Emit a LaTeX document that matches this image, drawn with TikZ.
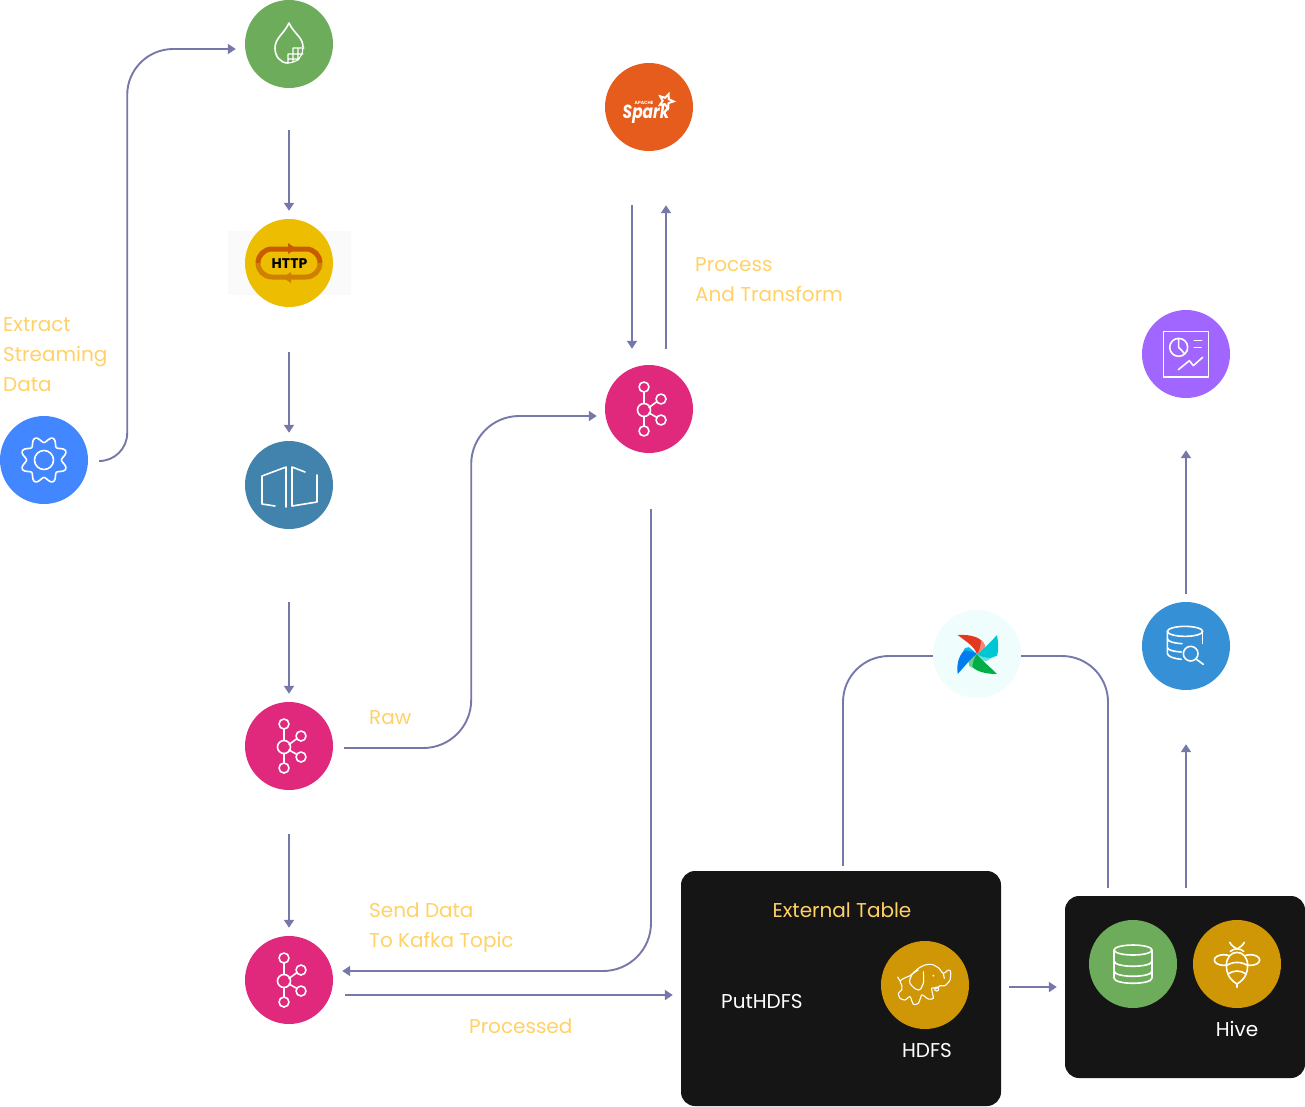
\documentclass[tikz,border=0pt]{standalone}
\usepackage{fontspec}
\setmainfont{Poppins}
\usetikzlibrary{arrows.meta}
\definecolor{linecol}{HTML}{7678A9}
\definecolor{capcol}{HTML}{FFD166}
\definecolor{darkcol}{HTML}{151515}
\definecolor{sparkcol}{HTML}{E55C1C}
\definecolor{hivecol}{HTML}{CF9606}
\definecolor{httptop}{HTML}{C85A00}
\definecolor{httpbot}{HTML}{D08000}
\definecolor{vanered}{HTML}{E43921}
\definecolor{vaneteal}{HTML}{00C7D4}
\definecolor{vanegreen}{HTML}{00AD46}
\definecolor{vaneblue}{HTML}{017CEE}
\tikzset{
  hub/.style={shape=circle, minimum size=88pt, inner sep=0pt},
  flow/.style={draw=linecol, line width=1.9pt, -{Triangle[length=8pt,width=10pt]}},
  link/.style={draw=linecol, line width=1.9pt},
  caption/.style={text=capcol, inner sep=0pt, align=left, font=\fontsize{20}{30}\selectfont},
  whitecap/.style={text=white, inner sep=0pt, font=\fontsize{20}{24}\selectfont},
  panel/.style={shape=rectangle, fill=darkcol, rounded corners=14pt, inner sep=0pt},
  icon/.style={draw=white, line width=1.6pt, line cap=round, line join=round},
  pics/kafkaicon/.style={code={
    \draw[icon] (-5,-17) -- (-5,-5.5) (-5,7.5) -- (-5,17) (0,-1.5) -- (8,-7.5) (0,4) -- (8,8.5);
    \draw[icon] (-5,1) circle (6.5) (-5,-22) circle (5) (-5,22) circle (5) (12,-10) circle (5) (12,11) circle (5);
  }},
  pics/gearicon/.style={code={
    \draw[icon] plot[domain=0:360, samples=121, smooth] (\x:{20.5-3*cos(8*\x)}) -- cycle;
    \draw[icon] (0,0) circle (9.5);
  }},
  pics/dropicon/.style={code={
    \draw[icon] (0,-21) .. controls (5,-10) and (14,-7) .. (14,3) (-1,19) .. controls (-9,19) and (-14,12) .. (-14,4) .. controls (-14,-6) and (-5,-10) .. (0,-21);
    \draw[icon, line width=1.1pt] (-1,19) -- (-1,10) -- (4,10) -- (4,4) -- (15,4) (4,10) -- (14,10) (9,4) -- (9,15) (-1,15) -- (10,15) (4,10) -- (4,18) (14,4) -- (13,10) -- (9,16) -- (3,18.5) -- (-1,19);
  }},
  pics/httpicon/.style={code={
    \draw[line width=5pt, color=httptop, rounded corners=14pt] (-31,0) -- (-31,-14) -- (31,-14) -- (31,0);
    \draw[line width=5pt, color=httpbot, rounded corners=14pt] (31,0) -- (31,14) -- (-31,14) -- (-31,0);
    \fill[httptop] (-1,-20) -- (7,-14.5) -- (-1,-9) -- cycle;
    \fill[httpbot] (2,9) -- (-6,14.5) -- (2,20) -- cycle;
  }},
  pics/streamicon/.style={code={
    \draw[icon] (-14,21) -- (-27,19) -- (-27,-9) -- (-3,-18) -- (-3,22);
    \draw[icon] (16,-13) -- (3,-18) -- (3,21) -- (28,17) -- (28,-10);
  }},
  pics/sparkicon/.style={code={
    \node[inner sep=0pt, text=white, anchor=base] (sparkword) at (-3,11) {\scalebox{1.1}[1.35]{\fontsize{14}{14}\selectfont\bfseries\itshape Spark}};
    \node[inner sep=0pt, text=white] (sparkapache) at (-5,-4) {\fontsize{4.5}{5}\selectfont\bfseries APACHE};
    \begin{scope}[shift={(17,-6)}, rotate=15]
      \fill[white] (90:10) -- (126:4.5) -- (162:10) -- (198:4.5) -- (234:10) -- (270:4.5) -- (306:10) -- (342:4.5) -- (18:10) -- (54:4.5) -- cycle;
      \fill[sparkcol] (90:4.5) -- (126:2) -- (162:4.5) -- (198:2) -- (234:4.5) -- (270:2) -- (306:4.5) -- (342:2) -- (18:4.5) -- (54:2) -- cycle;
    \end{scope}
  }},
  pics/airflowicon/.style={code={
    \begin{scope}[scale=0.333]
      \fill[vanered] (-58,-57) .. controls (-20,-60) and (20,-50) .. (25,-20) -- (0,0) .. controls (-10,-25) and (-30,-35) .. cycle;
      \fill[vaneteal] (60,-57) .. controls (65,-30) and (65,-10) .. (60,5) -- (20,20) -- (0,0) .. controls (15,-10) and (35,-30) .. cycle;
      \fill[vanegreen] (60,60) .. controls (30,60) and (-10,55) .. (-25,25) -- (0,0) .. controls (15,20) and (35,35) .. cycle;
      \fill[vaneblue] (-58,60) .. controls (-62,30) and (-55,-5) .. (-25,-20) -- (0,0) .. controls (-20,15) and (-40,40) .. cycle;
      \fill[vanered!60!white] (0,0) -- (25,-20) .. controls (24,-30) and (18,-38) .. (12,-42) .. controls (12,-25) and (8,-10) .. cycle;
      \fill[vaneteal!60!white] (0,0) -- (20,20) .. controls (30,22) and (38,18) .. (42,12) .. controls (25,12) and (10,8) .. cycle;
      \fill[vanegreen!60!white] (0,0) -- (-25,25) .. controls (-28,32) and (-22,38) .. (-14,42) .. controls (-14,25) and (-8,10) .. cycle;
      \fill[vaneblue!50!cyan] (0,0) -- (-25,-20) .. controls (-32,-22) and (-38,-18) .. (-42,-10) .. controls (-25,-12) and (-10,-8) .. cycle;
    \end{scope}
  }},
  pics/elephanticon/.style={code={
    \begin{scope}[scale=0.333, icon/.append style={line width=1.1pt}]
      \draw[icon] plot[smooth cycle, tension=0.45] coordinates {(-60,-22) (-45,-28) (-20,-50) (0,-60) (20,-62) (40,-52) (55,-35) (70,-45) (77,-40) (75,-15) (60,2) (45,2) (35,10) (20,10) (25,40) (10,42) (0,35) (-10,30) (-20,55) (-35,58) (-45,35) (-60,45) (-75,40) (-80,25) (-70,15) (-70,0) (-75,-12)};
      \draw[icon] plot[smooth, tension=0.6] coordinates {(-20,-45) (-40,-30) (-45,-5) (-20,15) (-5,-5) (-5,-40)};
      \draw[icon] (-75,-12) -- (-82,-24) (35,12) circle (6) (55,-35) -- (58,-20);
      \fill[white] (25,-28) circle (3);
    \end{scope}
  }},
  pics/dbicon/.style={code={
    \draw[icon] (0,-14) ellipse (19 and 5);
    \draw[icon] (-19,-14) -- (-19,14) .. controls (-19,21) and (19,21) .. (19,14) -- (19,-14);
    \draw[icon] (-19,-3) .. controls (-19,4) and (19,4) .. (19,-3);
    \draw[icon] (-19,7) .. controls (-19,14) and (19,14) .. (19,7);
  }},
  pics/beeicon/.style={code={
    \begin{scope}[scale=0.333]
      \draw[icon] (-40,-12) ellipse (28 and 16) (40,-12) ellipse (28 and 16);
      \draw[icon, fill=hivecol] (0,60) .. controls (-25,45) and (-32,25) .. (-32,5) .. controls (-32,-20) and (-18,-35) .. (0,-35) .. controls (18,-35) and (32,-20) .. (32,5) .. controls (32,25) and (25,45) .. cycle;
      \draw[icon] (-32,5) .. controls (-15,-8) and (15,-8) .. (32,5) (-27,30) .. controls (-10,18) and (10,18) .. (27,30) (0,60) -- (0,70);
      \draw[icon] (-22,-65) .. controls (-15,-52) and (-5,-50) .. (0,-45) .. controls (5,-50) and (15,-52) .. (22,-65);
      \draw[icon] (-20,-38) .. controls (-10,-48) and (10,-48) .. (20,-38);
    \end{scope}
  }},
  pics/searchicon/.style={code={
    \begin{scope}[scale=0.333]
      \draw[icon] (-3,-44) ellipse (53 and 15);
      \draw[icon] (-56,-44) -- (-56,22) .. controls (-56,32) and (-35,38) .. (-14,40);
      \draw[icon] (50,-44) -- (50,-8);
      \draw[icon] (-56,-22) .. controls (-56,-12) and (-30,-8) .. (-12,-7);
      \draw[icon] (-56,5) .. controls (-56,12) and (-35,17) .. (-14,18);
      \draw[icon] (14,23) circle (22);
      \draw[icon] (30,39) -- (52,55);
    \end{scope}
  }},
  pics/reporticon/.style={code={
    \begin{scope}[scale=0.333]
      \draw[icon] (-68,-67) rectangle (68,69);
      \draw[icon] (-22,-20) circle (27) (-22,-20) -- (-22,-47) (-22,-20) -- (-5,-2);
      \draw[icon] (25,-40) -- (47,-40) (25,-20) -- (45,-20);
      \draw[icon] (-23,47) -- (10,20) -- (22,35) -- (50,10);
    \end{scope}
  }}
}
\begin{document}
\begin{tikzpicture}[x=1pt, y=-1pt]
    \useasboundingbox (0,0) rectangle (1305,1106);
    \fill[gray!4] (228,231) rectangle (351,295);
    \node[panel, minimum width=320pt, minimum height=235pt] (tablebox) at (841,988.5) {};
    \node[panel, minimum width=240pt, minimum height=182pt] (hivebox) at (1185,987) {};
    \node[hub, fill={rgb,255:red,66;green,135;blue,255}] (gear) at (44,460) {};
    \node[hub, fill={rgb,255:red,109;green,172;blue,91}] (lake) at (289,44) {};
    \node[hub, fill={rgb,255:red,236;green,189;blue,0}] (httpgate) at (289,263) {};
    \node[hub, fill={rgb,255:red,65;green,131;blue,173}] (stream) at (289,485) {};
    \node[hub, fill={rgb,255:red,224;green,40;blue,125}] (kafkaraw) at (289,746) {};
    \node[hub, fill={rgb,255:red,224;green,40;blue,125}] (kafkaout) at (289,980) {};
    \node[hub, fill={rgb,255:red,224;green,40;blue,125}] (kafkaproc) at (649,409) {};
    \node[hub, fill=sparkcol] (spark) at (649,107) {};
    \node[hub, fill={rgb,255:red,239;green,253;blue,253}] (airflow) at (977,654) {};
    \node[hub, fill={rgb,255:red,53;green,144;blue,214}] (hivesearch) at (1186,646) {};
    \node[hub, fill={rgb,255:red,160;green,102;blue,255}] (report) at (1186,354) {};
    \node[hub, fill=hivecol] (hdfs) at (925,985) {};
    \node[hub, fill={rgb,255:red,109;green,172;blue,91}] (hivedb) at (1133,964) {};
    \node[hub, fill=hivecol] (hive) at (1237,964) {};
    \pic at (gear) {gearicon};
    \pic at (lake) {dropicon};
    \pic at (httpgate) {httpicon};
    \node[inner sep=0pt, font=\fontsize{14}{14}\selectfont\bfseries] (httplabel) at (289.5,264) {HTTP};
    \pic at (stream) {streamicon};
    \pic at (kafkaraw) {kafkaicon};
    \pic at (kafkaout) {kafkaicon};
    \pic at (kafkaproc) {kafkaicon};
    \pic at (spark) {sparkicon};
    \pic at (airflow) {airflowicon};
    \pic at (hivesearch) {searchicon};
    \pic at (report) {reporticon};
    \pic at (hdfs) {elephanticon};
    \pic at (hivedb) {dbicon};
    \pic at (hive) {beeicon};
    \node[caption, anchor=west] (extractlabel) at (3,355) {Extract\\Streaming\\Data};
    \node[caption, anchor=west] (processlabel) at (695,280) {Process\\And Transform};
    \node[caption, anchor=west] (rawlabel) at (369,718) {Raw};
    \node[caption, anchor=west] (sendlabel) at (369,928) {Send Data\\To Kafka Topic};
    \node[caption, anchor=west] (processedlabel) at (469,1026) {Processed};
    \node[caption] (tablelabel) at (842,910) {External Table};
    \node[whitecap, anchor=west] (puthdfslabel) at (721,1002) {PutHDFS};
    \node[whitecap] (hdfslabel) at (927,1050) {HDFS};
    \node[whitecap] (hivelabel) at (1237,1029) {Hive};
    \path (lake) edge[flow, shorten <=42pt, shorten >=8pt] node[] {} (httpgate);
    \path (httpgate) edge[flow, shorten <=45pt, shorten >=8pt] node[] {} (stream);
    \path (stream) edge[flow, shorten <=73pt, shorten >=8pt] node[] {} (kafkaraw);
    \path (kafkaraw) edge[flow, shorten <=44pt, shorten >=8pt] node[] {} (kafkaout);
    \path ([xshift=-17pt]spark.south) edge[flow, shorten <=54pt, shorten >=16pt] node[] {} ([xshift=-17pt]kafkaproc.north);
    \path ([xshift=17pt]kafkaproc.north) edge[flow, shorten <=16pt, shorten >=54pt] node[] {} ([xshift=17pt]spark.south);
    \path (hivesearch) edge[flow, shorten <=8pt, shorten >=52pt] node[] {} (report);
    \path ([xshift=1pt]hivebox.north) edge[flow, shorten <=8pt, shorten >=54pt] node[] {} (hivesearch.south);
    \path (tablebox.east |- hivebox.west) edge[flow, shorten <=8pt, shorten >=8pt] node[] {} (hivebox.west);
    \path ([yshift=-15pt]kafkaout.east) edge[flow, shorten <=12pt, shorten >=8pt] node[] {} ([yshift=-6.5pt]tablebox.west);
    \draw[flow, shorten <=11pt, shorten >=9pt] ([yshift=-1pt]gear.east) [rounded corners=28pt] -- ++(39,0) [rounded corners=46pt] |- ([yshift=-5pt]lake.west);
    \draw[flow, rounded corners=48pt, shorten <=11pt, shorten >=8pt] ([yshift=-2pt]kafkaraw.east) -- ++(138,0) |- ([yshift=-7pt]kafkaproc.west);
    \draw[flow, rounded corners=48pt, shorten <=56pt, shorten >=9pt] ([xshift=2pt]kafkaproc.south) |- ([yshift=9pt]kafkaout.east);
    \draw[link, rounded corners=46pt, shorten <=5pt] ([xshift=2pt]tablebox.north) |- ([yshift=-2pt]airflow.west);
    \draw[link, rounded corners=46pt, shorten <=8pt] ([xshift=-77pt]hivebox.north) |- ([yshift=-2pt]airflow.east);
\end{tikzpicture}
\end{document}
